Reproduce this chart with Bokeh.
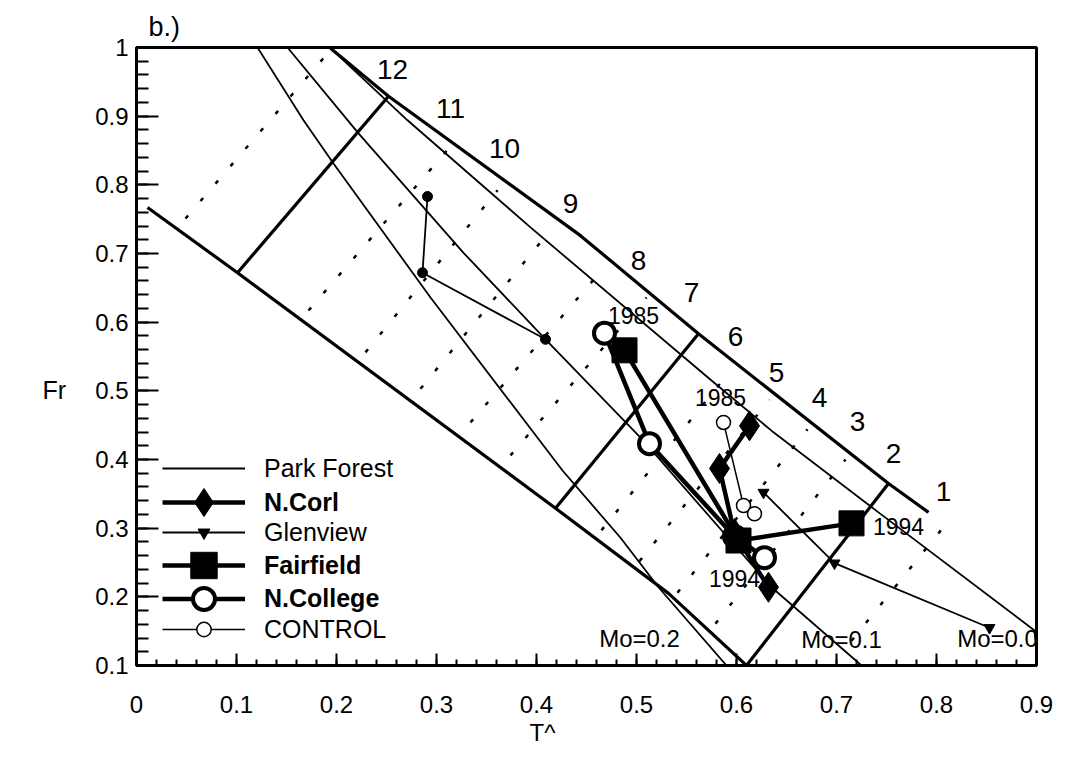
from bokeh.plotting import figure
from bokeh.models import (Legend, LegendItem, Title, FixedTicker,
                          CustomJSTickFormatter, Range1d)
from bokeh.core.properties import value
from bokeh.embed import file_html
from bokeh.resources import INLINE

FONT = "Liberation Sans"

# ---- nomogram boundaries (T^, Fr) ----
UPPER_T = [0.194, 0.252, 0.444, 0.562, 0.752, 0.792]
UPPER_FR = [0.999, 0.929, 0.726, 0.583, 0.365, 0.323]
LOWER_T = [0.011, 0.101, 0.419, 0.532, 0.610]
LOWER_FR = [0.767, 0.672, 0.329, 0.205, 0.100]

# heavy cross lines (index 12, 6 and the last one)
CROSS_T0 = [0.101, 0.419, 0.610]
CROSS_FR0 = [0.672, 0.329, 0.100]
CROSS_T1 = [0.252, 0.562, 0.752]
CROSS_FR1 = [0.929, 0.583, 0.365]

# dotted intermediate index lines
DOT_T0 = [0.049, 0.172, 0.229, 0.284, 0.334, 0.374, 0.465, 0.503, 0.541, 0.579, 0.715]
DOT_FR0 = [0.751, 0.617, 0.556, 0.503, 0.454, 0.406, 0.297, 0.252, 0.206, 0.161, 0.136]
DOT_T1 = [0.192, 0.314, 0.361, 0.414, 0.465, 0.510, 0.595, 0.633, 0.671, 0.709, 0.815]
DOT_FR1 = [0.993, 0.856, 0.792, 0.734, 0.675, 0.636, 0.531, 0.487, 0.444, 0.400, 0.316]

# Mo curves
MO02_T = [0.121, 0.167, 0.197, 0.294, 0.426, 0.484, 0.522, 0.590]
MO02_FR = [1.000, 0.894, 0.831, 0.636, 0.384, 0.286, 0.214, 0.100]
MO01_T = [0.151, 0.222, 0.327, 0.409, 0.504, 0.585, 0.635, 0.725]
MO01_FR = [1.000, 0.875, 0.701, 0.575, 0.432, 0.297, 0.214, 0.100]
MO00_T = [0.194, 0.271, 0.394, 0.575, 0.635, 0.742, 0.898, 0.900]
MO00_FR = [0.999, 0.894, 0.738, 0.515, 0.442, 0.323, 0.151, 0.120]

MO_LABELS = ["Mo=0.2", "Mo=0.1", "Mo=0.0"]
MO_LABEL_T = [0.503, 0.705, 0.861]
MO_LABEL_FR = [0.139, 0.138, 0.139]

INDEX_LABELS = ["12", "11", "10", "9", "8", "7", "6", "5", "4", "3", "2", "1"]
INDEX_T = [0.256, 0.314, 0.368, 0.434, 0.502, 0.555, 0.599, 0.640, 0.683, 0.721, 0.757, 0.807]
INDEX_FR = [0.968, 0.911, 0.853, 0.773, 0.690, 0.643, 0.579, 0.527, 0.490, 0.455, 0.409, 0.353]

# ---- sites ----
PARK_T = [0.291, 0.286, 0.409]
PARK_FR = [0.783, 0.672, 0.575]
NCORL_T = [0.613, 0.583, 0.598, 0.632]
NCORL_FR = [0.449, 0.387, 0.292, 0.214]
GLEN_T = [0.627, 0.698, 0.853]
GLEN_FR = [0.352, 0.249, 0.155]
FAIR_T = [0.488, 0.602, 0.715]
FAIR_FR = [0.559, 0.282, 0.307]
NCOL_T = [0.468, 0.513, 0.598, 0.628]
NCOL_FR = [0.584, 0.423, 0.288, 0.257]
CTRL_T = [0.587, 0.607, 0.618]
CTRL_FR = [0.454, 0.333, 0.321]

YEAR_LABELS = ["1985", "1985", "1994", "1994"]
YEAR_T = [0.497, 0.584, 0.762, 0.598]
YEAR_FR = [0.610, 0.490, 0.302, 0.227]

X_TICKS = [0, 0.1, 0.2, 0.3, 0.4, 0.5, 0.6, 0.7, 0.8, 0.9]
Y_TICKS = [0.1, 0.2, 0.3, 0.4, 0.5, 0.6, 0.7, 0.8, 0.9, 1.0]

p = figure(width=1086, height=759, x_range=Range1d(0, 0.9), y_range=Range1d(0.1, 1.0),
           min_border_left=136, min_border_right=50, min_border_top=47, min_border_bottom=94,
           toolbar_location=None, output_backend="svg")
p.xgrid.visible = False
p.ygrid.visible = False
p.outline_line_color = "black"
p.outline_line_width = 3
p.background_fill_color = "white"
p.border_fill_color = "white"

fmt = CustomJSTickFormatter(code="return tick.toFixed(1).replace(/\\.0$/, '')")
p.xaxis.ticker = FixedTicker(ticks=X_TICKS, minor_ticks=[i / 50 for i in range(46)])
p.yaxis.ticker = FixedTicker(ticks=Y_TICKS, minor_ticks=[0.1 + i / 50 for i in range(46)])
for ax in (p.xaxis[0], p.yaxis[0]):
    ax.formatter = fmt
    ax.axis_line_width = 3
    ax.axis_line_color = "black"
    ax.major_tick_out = 0
    ax.minor_tick_out = 0
    ax.major_tick_line_width = 2
    ax.minor_tick_line_width = 2
    ax.major_label_text_font = FONT
    ax.major_label_text_font_size = "24px"
    ax.major_label_text_color = "black"
p.xaxis.major_tick_in = 12
p.xaxis.minor_tick_in = 6
p.xaxis.major_label_standoff = 30
p.yaxis.major_tick_in = 22
p.yaxis.minor_tick_in = 12
p.yaxis.major_label_standoff = 8

# vertical axis title sits level with the 0.55 row; blank lines push it down
p.yaxis.axis_label = "\n\nFr"
p.yaxis.axis_label_orientation = "horizontal"
p.yaxis.axis_label_text_font = FONT
p.yaxis.axis_label_text_font_size = "25px"
p.yaxis.axis_label_text_font_style = "normal"
p.yaxis.axis_label_text_color = "black"
p.yaxis.axis_label_standoff = 26

# nomogram frame
p.line(UPPER_T, UPPER_FR, line_width=3.2, line_color="black")
p.line(LOWER_T, LOWER_FR, line_width=3.2, line_color="black")
p.segment(x0=CROSS_T0, y0=CROSS_FR0, x1=CROSS_T1, y1=CROSS_FR1, line_width=3.2, line_color="black")
p.segment(x0=DOT_T0, y0=DOT_FR0, x1=DOT_T1, y1=DOT_FR1, line_width=2.5,
          line_color="black", line_dash="4 19")
for mt, mf in ((MO02_T, MO02_FR), (MO01_T, MO01_FR), (MO00_T, MO00_FR)):
    p.line(mt, mf, line_width=1.8, line_color="black")

p.text(x=MO_LABEL_T, y=MO_LABEL_FR, text=MO_LABELS, text_font=value(FONT),
       text_font_size="24px", text_align="center", text_baseline="middle", text_color="black")
p.text(x=INDEX_T, y=INDEX_FR, text=INDEX_LABELS, text_font=value(FONT),
       text_font_size="28px", text_align="center", text_baseline="middle", text_color="black")

# site trajectories
park_l = p.line(PARK_T, PARK_FR, line_width=1.8, line_color="black")
park_m = p.scatter(PARK_T, PARK_FR, marker="circle", size=10, fill_color="black", line_color="black")
ncorl_l = p.line(NCORL_T, NCORL_FR, line_width=4.5, line_color="black")
glen_l = p.line(GLEN_T, GLEN_FR, line_width=1.8, line_color="black")
ncol_l = p.line(NCOL_T, NCOL_FR, line_width=4.5, line_color="black")
ctrl_l = p.line(CTRL_T, CTRL_FR, line_width=1.5, line_color="black")
fair_l = p.line(FAIR_T, FAIR_FR, line_width=4.5, line_color="black")

ncorl_m = p.scatter(NCORL_T, NCORL_FR, marker="diamond", size=30, fill_color="black", line_color="black")
glen_m = p.scatter(GLEN_T, GLEN_FR, marker="inverted_triangle", size=11, fill_color="black", line_color="black")
ncol_m = p.scatter(NCOL_T, NCOL_FR, marker="circle", size=21, fill_color="white",
                   line_color="black", line_width=4)
ctrl_m = p.scatter(CTRL_T, CTRL_FR, marker="circle", size=14, fill_color="white",
                   line_color="black", line_width=1.5)
fair_m = p.scatter(FAIR_T, FAIR_FR, marker="square", size=25, fill_color="black", line_color="black")

p.text(x=YEAR_T, y=YEAR_FR, text=YEAR_LABELS, text_font=value(FONT),
       text_font_size="23px", text_align="center", text_baseline="middle", text_color="black")

# legend: one block per site so each label can carry its own weight
LEGEND_ROWS = [
    ("Park Forest", [park_l], 197, 30, False),
    ("N.Corl", [ncorl_l, ncorl_m], 163, 70, True),
    ("Glenview", [glen_l, glen_m], 133, 30, False),
    ("Fairfield", [fair_l, fair_m], 100, 66, True),
    ("N.College", [ncol_l, ncol_m], 67, 55, True),
    ("CONTROL", [ctrl_l, ctrl_m], 36, 36, False),
]
for label, rends, center, gh, bold in LEGEND_ROWS:
    leg = Legend(items=[LegendItem(label=label, renderers=rends)],
                 location=(26, center - gh / 2), glyph_width=83, glyph_height=gh,
                 label_height=gh, label_standoff=19, padding=0, margin=0, spacing=0,
                 border_line_color=None, background_fill_alpha=0,
                 label_text_font=FONT, label_text_font_size="25px",
                 label_text_font_style="bold" if bold else "normal", label_text_color="black")
    p.add_layout(leg)

p.add_layout(Title(text="b.)", align="left", offset=12, standoff=12, text_font=FONT,
                   text_font_size="27px", text_font_style="normal", text_color="black"), "above")
p.add_layout(Title(text="T^", align="left", offset=393, standoff=3, text_font=FONT,
                   text_font_size="24px", text_font_style="normal", text_color="black"), "below")

open("out.html", "w").write(file_html(p, INLINE))
